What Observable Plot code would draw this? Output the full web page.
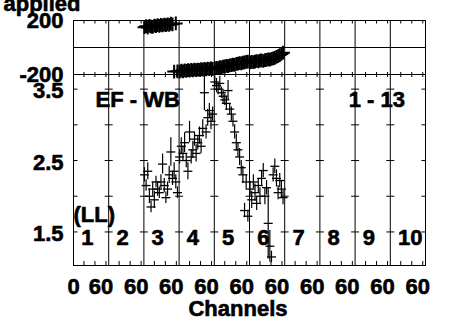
<!DOCTYPE html>
<html><head><meta charset="utf-8">
<script src="https://cdn.jsdelivr.net/npm/d3@7"></script>
<script src="https://cdn.jsdelivr.net/npm/@observablehq/plot@0.6"></script>
<style>
html,body{margin:0;padding:0;background:#fff;}
#wrap{position:relative;width:449px;height:322px;overflow:hidden;background:#fff;}
#wrap svg{position:absolute;left:0;top:0;}
</style></head><body><div id="wrap"></div>
<script>
// ---- data ----
const ifNumbers = [1, 2, 3, 4, 5, 6, 7, 8, 9, 10];
const channelsPerIF = 64;
const channels = [2, 5, 8, 11, 14, 17, 20, 23, 26, 29, 32, 35, 38, 41, 44, 47, 50, 53, 56, 59, 62];
const minorTickChannels = [20, 40, 60];

const phaseIF3 = [150, 158, 148, 160, 155, 152, 162, 158, 165, 160, 168, 163, 170, 166, 172, 168, 176, 172, -178, 178, -176];
const phaseIF4 = [-178, -172, -176, -170, -174, -168, -172, -166, -170, -164, -168, -163, -166, -160, -164, -158, -162, -156, -160, -155, -158];
const phaseIF5 = [-155, -150, -152, -146, -148, -142, -140, -136, -138, -132, -130, -126, -128, -122, -120, -116, -118, -112, -110, -106, -104];
const phaseIF6 = [-110, -106, -108, -104, -100, -102, -98, -96, -100, -94, -92, -88, -90, -84, -80, -76, -70, -64, -56, -48, -38];

const ampIF3 = [2.30, 2.15, 2.35, 2.00, 1.85, 2.10, 1.95, 2.20, 2.10, 2.05, 2.20, 2.45, 2.15, 1.98, 2.10, 2.30, 2.62, 2.25, 2.35, 2.20, 2.05];
const errIF3 = [0.10, 0.08, 0.12, 0.10, 0.08, 0.10, 0.12, 0.08, 0.10, 0.08, 0.10, 0.14, 0.10, 0.08, 0.10, 0.12, 0.20, 0.10, 0.12, 0.10, 0.08];
const ampIF4 = [2.55, 2.70, 2.60, 2.75, 2.50, 2.35, 2.90, 2.55, 2.65, 2.80, 2.60, 2.75, 2.85, 2.70, 2.95, 3.45, 2.90, 3.10, 3.20, 3.05, 3.15];
const errIF4 = [0.10, 0.12, 0.10, 0.14, 0.10, 0.12, 0.15, 0.10, 0.12, 0.10, 0.12, 0.10, 0.12, 0.10, 0.12, 0.25, 0.10, 0.12, 0.10, 0.12, 0.10];
const ampIF5 = [3.60, 3.55, 3.50, 3.58, 3.45, 3.40, 3.35, 3.30, 3.48, 3.22, 3.15, 3.05, 2.90, 2.75, 2.65, 2.55, 2.40, 2.30, 1.80, 2.20, 1.72];
const errIF5 = [0.08, 0.10, 0.08, 0.10, 0.08, 0.10, 0.08, 0.10, 0.14, 0.08, 0.10, 0.08, 0.10, 0.12, 0.10, 0.12, 0.10, 0.12, 0.10, 0.10, 0.08];
const ampIF6 = [2.10, 1.95, 2.20, 2.05, 1.90, 2.15, 2.00, 2.25, 2.36, 2.00, 2.12, 1.62, 1.30, 1.15, 2.30, 2.42, 2.25, 2.05, 2.22, 2.10, 1.98];
const errIF6 = [0.10, 0.12, 0.10, 0.12, 0.10, 0.10, 0.12, 0.10, 0.10, 0.12, 0.10, 0.50, 0.22, 0.08, 0.10, 0.10, 0.12, 0.10, 0.10, 0.12, 0.10];

const phaseDomain = [-200, 200];
const phaseTickLabels = [200, -200];
const ampDomain = [1.03, 3.705];
const ampTickLabels = [3.5, 2.5, 1.5];
const ampTicks = [3.5, 3.0, 2.5, 2.0, 1.5];
const xFirstLabel = "0";
const xRepeatLabel = "60";

// ---- derived tables ----
const gx = (ifn, ch) => (ifn - 1) * channelsPerIF + ch;
const xDomain = [gx(1, 1), gx(ifNumbers.length + 1, 1)];
const dividers = ifNumbers.slice(1).map(n => gx(n, 1));
const minorTicks = ifNumbers.flatMap(n => minorTickChannels.map(c => gx(n, c)));
const phaseData = [];
[[3, phaseIF3], [4, phaseIF4], [5, phaseIF5], [6, phaseIF6]].forEach(([n, arr]) =>
  arr.forEach((p, i) => phaseData.push({x: gx(n, channels[i]), p})));
const ampData = [];
[[3, ampIF3, errIF3], [4, ampIF4, errIF4], [5, ampIF5, errIF5], [6, ampIF6, errIF6]].forEach(([n, arr, err]) =>
  arr.forEach((a, i) => ampData.push({x: gx(n, channels[i]), a, e: err[i]})));
const gridTicks = [1, ...dividers].flatMap((x, k) => ampTicks.map(v => ({x, v, k})));
const sixtyLabels = ifNumbers.map(n => gx(n, 60));

// ---- custom line symbols ----
const seg = (x0, y0, x1, y1) => ({draw(ctx, size) {
  const r = Math.sqrt(size / Math.PI);
  ctx.moveTo(x0 * r, y0 * r); ctx.lineTo(x1 * r, y1 * r);
}});
const symUp = seg(0, 0, 0, -1), symDown = seg(0, 0, 0, 1);
const symRight = seg(0, 0, 1, 0), symLeft = seg(0, 0, -1, 0), symH = seg(-1, 0, 1, 0);

const font = {fontFamily: "'Liberation Sans', Arial, Helvetica, sans-serif", fontSize: "22px", fontWeight: "bold", overflow: "visible"};
const W = 449, H = 322, ML = 73, MR = 24;
const T = {fill: "black", stroke: "black", strokeWidth: 0.6};

const ampChart = Plot.plot({
  width: W, height: H, marginLeft: ML, marginRight: MR, marginTop: 74, marginBottom: 57,
  x: {domain: xDomain, axis: null},
  y: {domain: ampDomain, axis: null},
  style: {...font, background: "white"},
  marks: [
    Plot.ruleX(dividers, {stroke: "black", strokeWidth: 1}),
    Plot.dot(minorTicks, {x: d => d, y: ampDomain[1], symbol: symDown, r: 2.5, stroke: "black", fill: "none", strokeWidth: 1}),
    Plot.dot(minorTicks, {x: d => d, y: ampDomain[0], symbol: symUp, r: 4.5, stroke: "black", fill: "none", strokeWidth: 1}),
    Plot.dot(gridTicks, {x: "x", y: "v", symbol: d => d.k === 0 ? symRight : symH, r: 4, stroke: "black", fill: "none", strokeWidth: 1}),
    Plot.dot(ampTicks, {x: xDomain[1], y: d => d, symbol: symLeft, r: 4, stroke: "black", fill: "none", strokeWidth: 1}),
    Plot.ruleX(ampData, {x: "x", y1: d => d.a - d.e, y2: d => d.a + d.e, stroke: "black", strokeWidth: 1.2}),
    Plot.dot(ampData, {x: "x", y: "a", symbol: symH, r: 4.5, stroke: "black", fill: "none", strokeWidth: 1.3}),
    Plot.frame({stroke: "black", strokeWidth: 1}),
    Plot.text(ampTickLabels, {y: d => d, text: d => d.toFixed(1), frameAnchor: "left", textAnchor: "end", dx: -10, dy: 2, ...T}),
    Plot.text([xFirstLabel], {x: xDomain[0], frameAnchor: "bottom", lineAnchor: "bottom", dy: 28.3, ...T}),
    Plot.text(sixtyLabels, {x: d => d, text: () => xRepeatLabel, frameAnchor: "bottom", lineAnchor: "bottom", dx: -5, dy: 28.3, ...T}),
    Plot.text(["Channels"], {frameAnchor: "bottom", lineAnchor: "bottom", dx: -11.5, dy: 50, ...T}),
    Plot.text(["EF - WB"], {frameAnchor: "top-left", textAnchor: "start", lineAnchor: "bottom", dx: 22, dy: 32.7, ...T}),
    Plot.text(["1 - 13"], {frameAnchor: "top-right", textAnchor: "end", lineAnchor: "bottom", dx: -20.5, dy: 32.7, ...T}),
    Plot.text(["(LL)"], {frameAnchor: "bottom-left", textAnchor: "start", lineAnchor: "bottom", dx: 0, dy: -43.3, ...T}),
    Plot.text(ifNumbers, {x: n => gx(n, 1), text: n => String(n), frameAnchor: "bottom", textAnchor: "start", lineAnchor: "bottom", dx: 7.7, dy: -21, ...T})
  ]
});

const phaseChart = Plot.plot({
  width: W, height: H, marginLeft: ML, marginRight: MR, marginTop: 20, marginBottom: H - 74,
  x: {domain: xDomain, axis: null},
  y: {domain: phaseDomain, axis: null},
  style: {...font, background: "transparent"},
  marks: [
    Plot.ruleY([0], {stroke: "black", strokeWidth: 1}),
    Plot.ruleX(dividers, {stroke: "black", strokeWidth: 1}),
    Plot.dot(minorTicks, {x: d => d, y: phaseDomain[1], symbol: symDown, r: 3, stroke: "black", fill: "none", strokeWidth: 1}),
    Plot.dot(minorTicks, {x: d => d, y: phaseDomain[0], symbol: symUp, r: 2.5, stroke: "black", fill: "none", strokeWidth: 1}),
    Plot.ruleX(phaseData, {x: "x", y1: d => d.p - 18, y2: d => d.p + 18, stroke: "black", strokeWidth: 1.6}),
    Plot.dot(phaseData, {x: "x", y: "p", symbol: "plus", r: 4.5, stroke: "black", fill: "none", strokeWidth: 2}),
    Plot.frame({stroke: "black", strokeWidth: 1}),
    Plot.text(phaseTickLabels, {y: d => d, text: d => String(d), frameAnchor: "left", textAnchor: "end", dx: -10, dy: 0.5, ...T}),
    Plot.text(["applied"], {frameAnchor: "top-left", textAnchor: "end", lineAnchor: "bottom", dx: 7, dy: -10, ...T})
  ]
});

const wrap = document.getElementById("wrap");
wrap.appendChild(ampChart);
wrap.appendChild(phaseChart);
</script>
</body></html>
